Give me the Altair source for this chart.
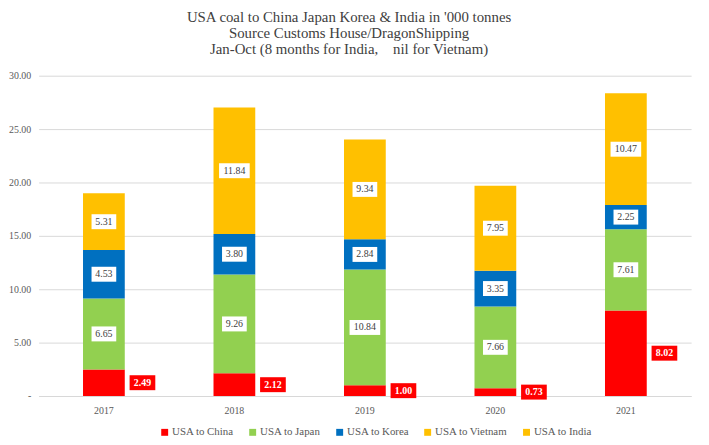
import altair as alt
import pandas as pd

years = ["2017", "2018", "2019", "2020", "2021"]
series = ["USA to China", "USA to Japan", "USA to Korea", "USA to Vietnam", "USA to India"]
china = [2.49, 2.12, 1.00, 0.73, 8.02]
japan = [6.65, 9.26, 10.84, 7.66, 7.61]
korea = [4.53, 3.80, 2.84, 3.35, 2.25]
vietnam = [0.0, 0.0, 0.0, 0.0, 0.0]
india = [5.31, 11.84, 9.34, 7.95, 10.47]
colors = ["#FF0000", "#92D050", "#0070C0", "#FFC000", "#FFC000"]
y_ticks = [0, 5, 10, 15, 20, 25, 30]
title_lines = [
    "USA coal to China Japan Korea & India in '000 tonnes",
    "Source Customs House/DragonShipping",
    "Jan-Oct (8 months for India,\u00a0\u00a0\u00a0 nil for Vietnam)",
]

rows = []
for k, (name, vals) in enumerate(zip(series, [china, japan, korea, vietnam, india])):
    for yr, v in zip(years, vals):
        rows.append({"year": yr, "series": name, "value": v, "order": k})
df = pd.DataFrame(rows)

FONT = "Liberation Serif"
TXT = "#404040"

x_enc = alt.X(
    "year:N", title=None,
    scale=alt.Scale(paddingInner=0.68, paddingOuter=0.34),
    axis=alt.Axis(labelAngle=0, labelFont=FONT, labelFontSize=10, labelColor="#595959",
                  ticks=False, domainColor="#D9D9D9", labelPadding=10, grid=False),
)
y_axis = alt.Axis(values=y_ticks, title=None,
                  labelExpr="datum.value == 0 ? '-\u00a0\u00a0' : format(datum.value, '.2f')",
                  labelFont=FONT, labelFontSize=10, labelColor="#595959",
                  domain=False, ticks=False, gridColor="#D9D9D9", labelPadding=8)
y_scale = alt.Scale(domain=[0, 30], nice=False)

base = alt.Chart(df).transform_stack(
    stack="value", groupby=["year"], as_=["v0", "v1"],
    sort=[alt.SortField("order", order="ascending")],
).transform_calculate(
    mid="(datum.v0 + datum.v1) / 2",
    lo="(datum.v0 + datum.v1) / 2 - 0.7",
    hi="(datum.v0 + datum.v1) / 2 + 0.7",
    label="format(datum.value, '.2f')",
)

bars = base.mark_bar().encode(
    x=x_enc,
    y=alt.Y("v0:Q", scale=y_scale, axis=y_axis),
    y2="v1:Q",
    color=alt.Color("series:N", scale=alt.Scale(domain=series, range=colors),
                    legend=alt.Legend(title=None, orient="none", legendX=122, legendY=355,
                                      direction="horizontal", symbolType="square",
                                      symbolSize=49, symbolStrokeWidth=0,
                                      labelFont=FONT, labelFontSize=11, labelColor="#595959",
                                      columnPadding=13, labelOffset=2)),
)

def box(filt, width, color, xoff=0):
    return base.transform_filter(filt).mark_bar(width=width, color=color, xOffset=xoff).encode(
        x=x_enc, y=alt.Y("lo:Q", scale=y_scale, axis=y_axis), y2="hi:Q")

other = "datum.series != 'USA to China' && datum.value > 0"
box4 = box(other + " && length(datum.label) == 4", 25, "white")
box5 = box(other + " && length(datum.label) == 5", 31, "white")
boxc = box("datum.series == 'USA to China'", 26, "#FF0000", 39)

txt = base.transform_filter(other).mark_text(font=FONT, fontSize=10, color=TXT).encode(
    x=x_enc, y=alt.Y("mid:Q", scale=y_scale, axis=y_axis), text="label:N")
txtc = base.transform_filter("datum.series == 'USA to China'").mark_text(
    font=FONT, fontSize=10, color="white", fontWeight="bold", xOffset=39).encode(
    x=x_enc, y=alt.Y("mid:Q", scale=y_scale, axis=y_axis), text="label:N")

chart = alt.layer(bars, box4, box5, boxc, txt, txtc).properties(
    width=660, height=324,
    autosize=alt.AutoSizeParams(type="none"),
    padding={"left": 31, "top": 66, "right": 10, "bottom": 40},
    title=alt.TitleParams(text=title_lines, font=FONT, fontSize=15, fontWeight="normal",
                          color=TXT, lineHeight=16, anchor="middle", dx=-16, dy=18,
                          baseline="bottom", offset=17),
).configure_view(stroke=None)

chart.save("out.html", embed_options={"renderer": "svg", "actions": False})
